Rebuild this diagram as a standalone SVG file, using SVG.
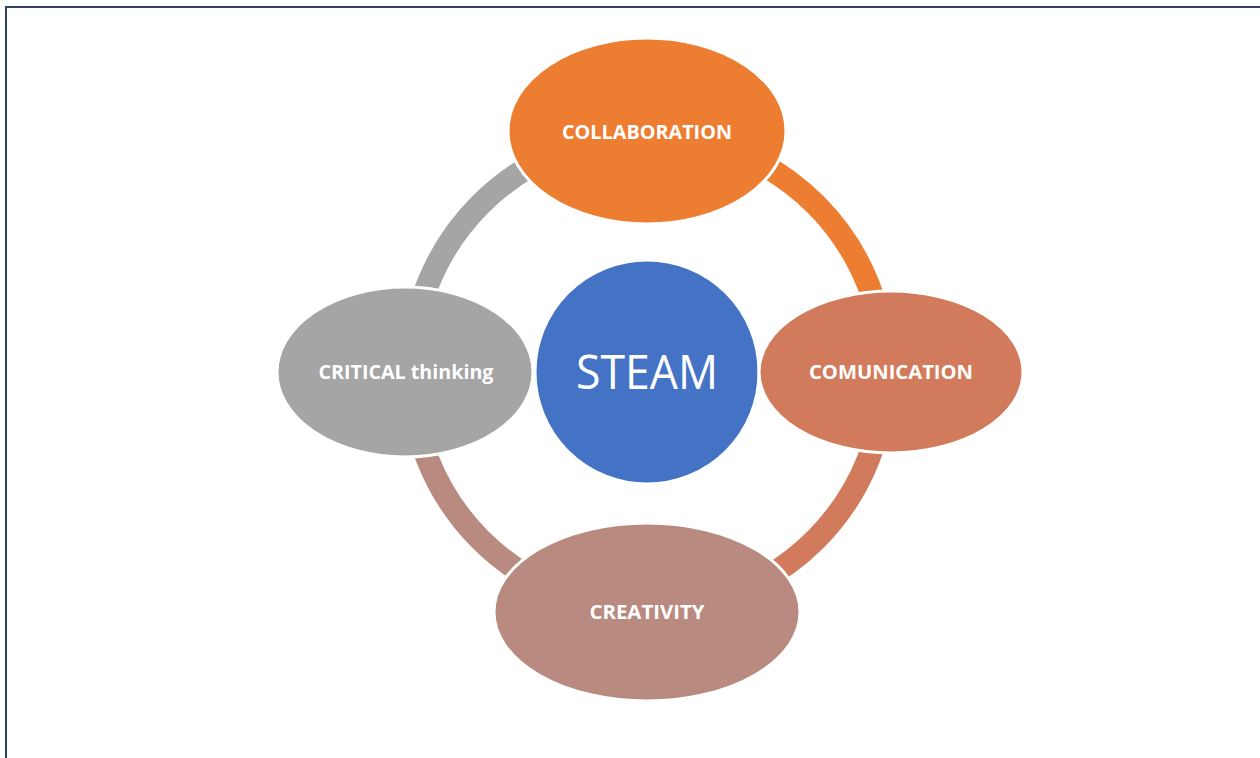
<svg xmlns="http://www.w3.org/2000/svg" width="1260" height="758" viewBox="0 0 1260 758">
  <style>
    .ring { fill: none; stroke-width: 23; }
    .node { stroke: #ffffff; stroke-width: 3; }
    .lbl { font-family: "Open Sans", "Liberation Sans", sans-serif; font-weight: 700; font-size: 20px; fill: #ffffff; text-anchor: middle; }
    .hub { font-family: "Open Sans", "Liberation Sans", sans-serif; font-weight: 400; font-size: 48px; fill: #ffffff; text-anchor: middle; }
  </style>
  <rect x="0" y="0" width="1260" height="758" fill="#ffffff"/>
  <!-- page frame -->
  <rect x="6" y="7" width="1270" height="770" fill="none" stroke="#2f3f60" stroke-width="2"/>

  <!-- cycle connectors: four quarter arcs around the hub -->
  <g id="connectors">
    <path class="ring" stroke="#a5a5a5" d="M 411 372 A 237 237 0 0 1 648 135"/>
    <path class="ring" stroke="#ed7d31" d="M 648 135 A 237 237 0 0 1 885 372"/>
    <path class="ring" stroke="#d27b5c" d="M 885 372 A 237 237 0 0 1 648 609"/>
    <path class="ring" stroke="#b98a80" d="M 648 609 A 237 237 0 0 1 411 372"/>
  </g>

  <g id="steam">
    <circle cx="647" cy="372" r="112" fill="#4472c4" class="node"/>
    <text class="hub" x="647" y="389" textLength="142" lengthAdjust="spacingAndGlyphs">STEAM</text>
  </g>

  <g id="collaboration">
    <ellipse cx="647" cy="131" rx="139" ry="93" fill="#ed7d31" class="node"/>
    <text class="lbl" x="647" y="139" textLength="170" lengthAdjust="spacingAndGlyphs">COLLABORATION</text>
  </g>

  <g id="comunication">
    <ellipse cx="891" cy="372" rx="132" ry="81" fill="#d27b5c" class="node"/>
    <text class="lbl" x="891" y="379" textLength="164" lengthAdjust="spacingAndGlyphs">COMUNICATION</text>
  </g>

  <g id="creativity">
    <ellipse cx="647" cy="612" rx="153" ry="89" fill="#b98a80" class="node"/>
    <text class="lbl" x="647" y="619" textLength="115" lengthAdjust="spacingAndGlyphs">CREATIVITY</text>
  </g>

  <g id="critical-thinking">
    <ellipse cx="405" cy="372" rx="128" ry="85" fill="#a5a5a5" class="node"/>
    <text class="lbl" x="406" y="379" textLength="175" lengthAdjust="spacingAndGlyphs">CRITICAL thinking</text>
  </g>
</svg>
